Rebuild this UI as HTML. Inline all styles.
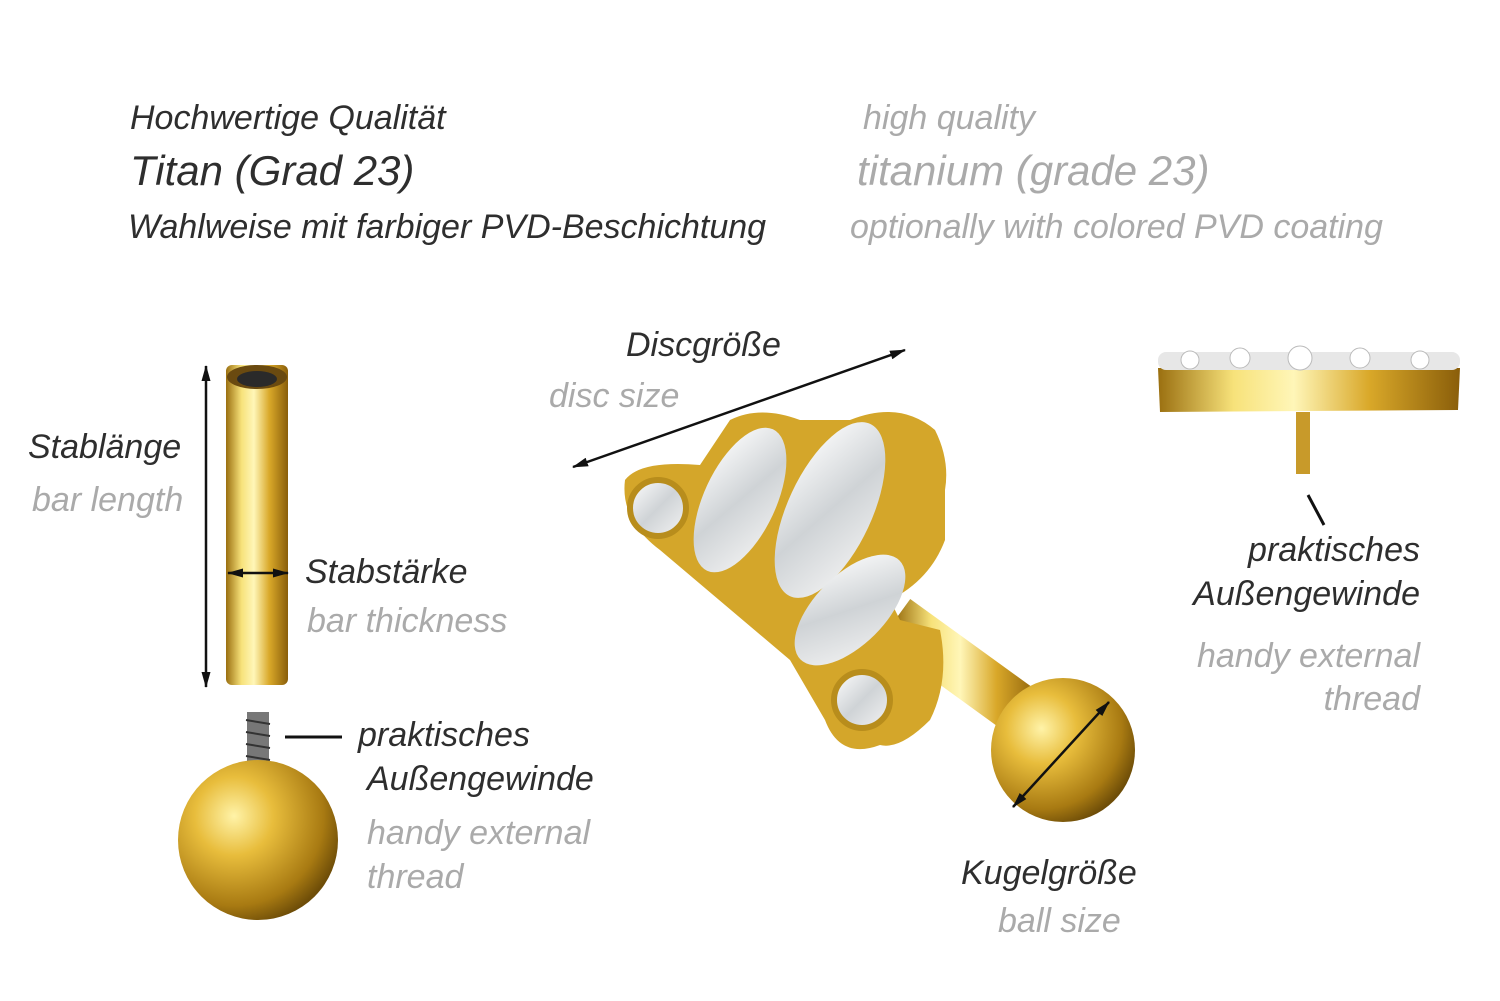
<!DOCTYPE html>
<html><head><meta charset="utf-8"><style>
html,body{margin:0;padding:0;background:#fff;}
body{width:1500px;height:1001px;position:relative;overflow:hidden;font-family:"Liberation Sans",sans-serif;font-style:italic;}
.t{position:absolute;white-space:nowrap;line-height:1;font-size:34px;}
.d{color:#2e2e2e;}
.g{color:#aaaaaa;}
.r{text-align:right;}
svg{position:absolute;left:0;top:0;}
</style></head><body>
<svg width="1500" height="1001" viewBox="0 0 1500 1001">
<defs>
<linearGradient id="bar" x1="0" x2="1" y1="0" y2="0">
<stop offset="0" stop-color="#9a6f10"/><stop offset="0.25" stop-color="#f7e27a"/><stop offset="0.45" stop-color="#fff6b8"/><stop offset="0.7" stop-color="#d9a829"/><stop offset="1" stop-color="#8a5e0a"/></linearGradient>
<radialGradient id="ball" cx="0.35" cy="0.35" r="0.7">
<stop offset="0" stop-color="#fff3a8"/><stop offset="0.35" stop-color="#e8bd3c"/><stop offset="0.8" stop-color="#a87a12"/><stop offset="1" stop-color="#6e4d08"/></radialGradient>
<linearGradient id="gem" x1="0" x2="1" y1="0" y2="1">
<stop offset="0" stop-color="#ffffff"/><stop offset="0.5" stop-color="#cfd3d6"/><stop offset="1" stop-color="#f4f4f4"/></linearGradient>
<marker id="ah" markerUnits="userSpaceOnUse" markerWidth="16" markerHeight="12" refX="15" refY="6" orient="auto-start-reverse"><path d="M0,1.5 L16,6 L0,10.5 z" fill="#111"/></marker>
</defs>
<rect x="226" y="365" width="62" height="320" rx="6" fill="url(#bar)"/>
<ellipse cx="257" cy="377" rx="30" ry="12" fill="#6a4a10"/>
<ellipse cx="257" cy="379" rx="20" ry="8" fill="#2a2a2a"/>
<line x1="206" y1="366" x2="206" y2="687" stroke="#111" stroke-width="2.5" marker-start="url(#ah)" marker-end="url(#ah)"/>
<line x1="228" y1="573" x2="288" y2="573" stroke="#111" stroke-width="2.5" marker-start="url(#ah)" marker-end="url(#ah)"/>
<rect x="247" y="712" width="22" height="80" fill="#777"/>
<g stroke="#333" stroke-width="2"><line x1="246" y1="720" x2="270" y2="724"/><line x1="246" y1="732" x2="270" y2="736"/><line x1="246" y1="744" x2="270" y2="748"/><line x1="246" y1="756" x2="270" y2="760"/></g>
<circle cx="258" cy="840" r="80" fill="url(#ball)"/>
<line x1="285" y1="737" x2="342" y2="737" stroke="#111" stroke-width="3"/>
<line x1="895" y1="620" x2="1040" y2="725" stroke="url(#bar)" stroke-width="52"/>
<circle cx="1063" cy="750" r="72" fill="url(#ball)"/>
<path d="M625,480 Q640,460 700,465 L730,420 Q760,405 800,420 L850,420 Q900,400 935,430 Q950,460 945,490 L945,540 Q930,580 890,600 L900,620 L940,630 Q950,680 930,720 Q900,750 880,745 Q840,760 825,720 L790,660 L660,550 Q620,520 625,480z" fill="#d4a62a"/>
<circle cx="658" cy="508" r="28" fill="url(#gem)" stroke="#b88d1c" stroke-width="6"/>
<ellipse cx="740" cy="500" rx="36" ry="78" transform="rotate(25 740 500)" fill="url(#gem)"/>
<ellipse cx="830" cy="510" rx="42" ry="95" transform="rotate(25 830 510)" fill="url(#gem)"/>
<ellipse cx="850" cy="610" rx="35" ry="70" transform="rotate(45 850 610)" fill="url(#gem)"/>
<circle cx="862" cy="700" r="28" fill="url(#gem)" stroke="#b88d1c" stroke-width="6"/>
<line x1="573" y1="467" x2="905" y2="350" stroke="#111" stroke-width="2.5" marker-start="url(#ah)" marker-end="url(#ah)"/>
<line x1="1013" y1="807" x2="1109" y2="702" stroke="#111" stroke-width="2.5" marker-start="url(#ah)" marker-end="url(#ah)"/>
<path d="M1158,368 L1460,368 L1458,410 L1160,412z" fill="url(#bar)"/>
<rect x="1158" y="352" width="302" height="18" rx="8" fill="#e7e7e7"/>
<g fill="#fff" stroke="#bbb"><circle cx="1190" cy="360" r="9"/><circle cx="1240" cy="358" r="10"/><circle cx="1300" cy="358" r="12"/><circle cx="1360" cy="358" r="10"/><circle cx="1420" cy="360" r="9"/></g>
<rect x="1296" y="412" width="14" height="62" fill="#c89a2a"/>
<line x1="1308" y1="495" x2="1324" y2="525" stroke="#111" stroke-width="3"/>
</svg>
<div class="t d" style="left:130px;top:101px;">Hochwertige Qualität</div>
<div class="t d" style="left:130px;top:150px;font-size:42px">Titan (Grad 23)</div>
<div class="t d" style="left:128px;top:210px;">Wahlweise mit farbiger PVD-Beschichtung</div>
<div class="t g" style="left:863px;top:101px;">high quality</div>
<div class="t g" style="left:857px;top:150px;font-size:42px">titanium (grade 23)</div>
<div class="t g" style="left:850px;top:210px;">optionally with colored PVD coating</div>
<div class="t d" style="left:28px;top:430px;">Stablänge</div>
<div class="t g" style="left:32px;top:483px;">bar length</div>
<div class="t d" style="left:305px;top:555px;">Stabstärke</div>
<div class="t g" style="left:307px;top:604px;">bar thickness</div>
<div class="t d" style="left:358px;top:718px;">praktisches</div>
<div class="t d" style="left:367px;top:762px;">Außengewinde</div>
<div class="t g" style="left:367px;top:816px;">handy external</div>
<div class="t g" style="left:367px;top:860px;">thread</div>
<div class="t d" style="left:626px;top:328px;">Discgröße</div>
<div class="t g" style="left:549px;top:379px;">disc size</div>
<div class="t d r" style="right:80px;top:533px;">praktisches</div>
<div class="t d r" style="right:80px;top:577px;">Außengewinde</div>
<div class="t g r" style="right:80px;top:639px;">handy external</div>
<div class="t g r" style="right:80px;top:682px;">thread</div>
<div class="t d" style="left:961px;top:856px;">Kugelgröße</div>
<div class="t g" style="left:998px;top:904px;">ball size</div>
</body></html>
